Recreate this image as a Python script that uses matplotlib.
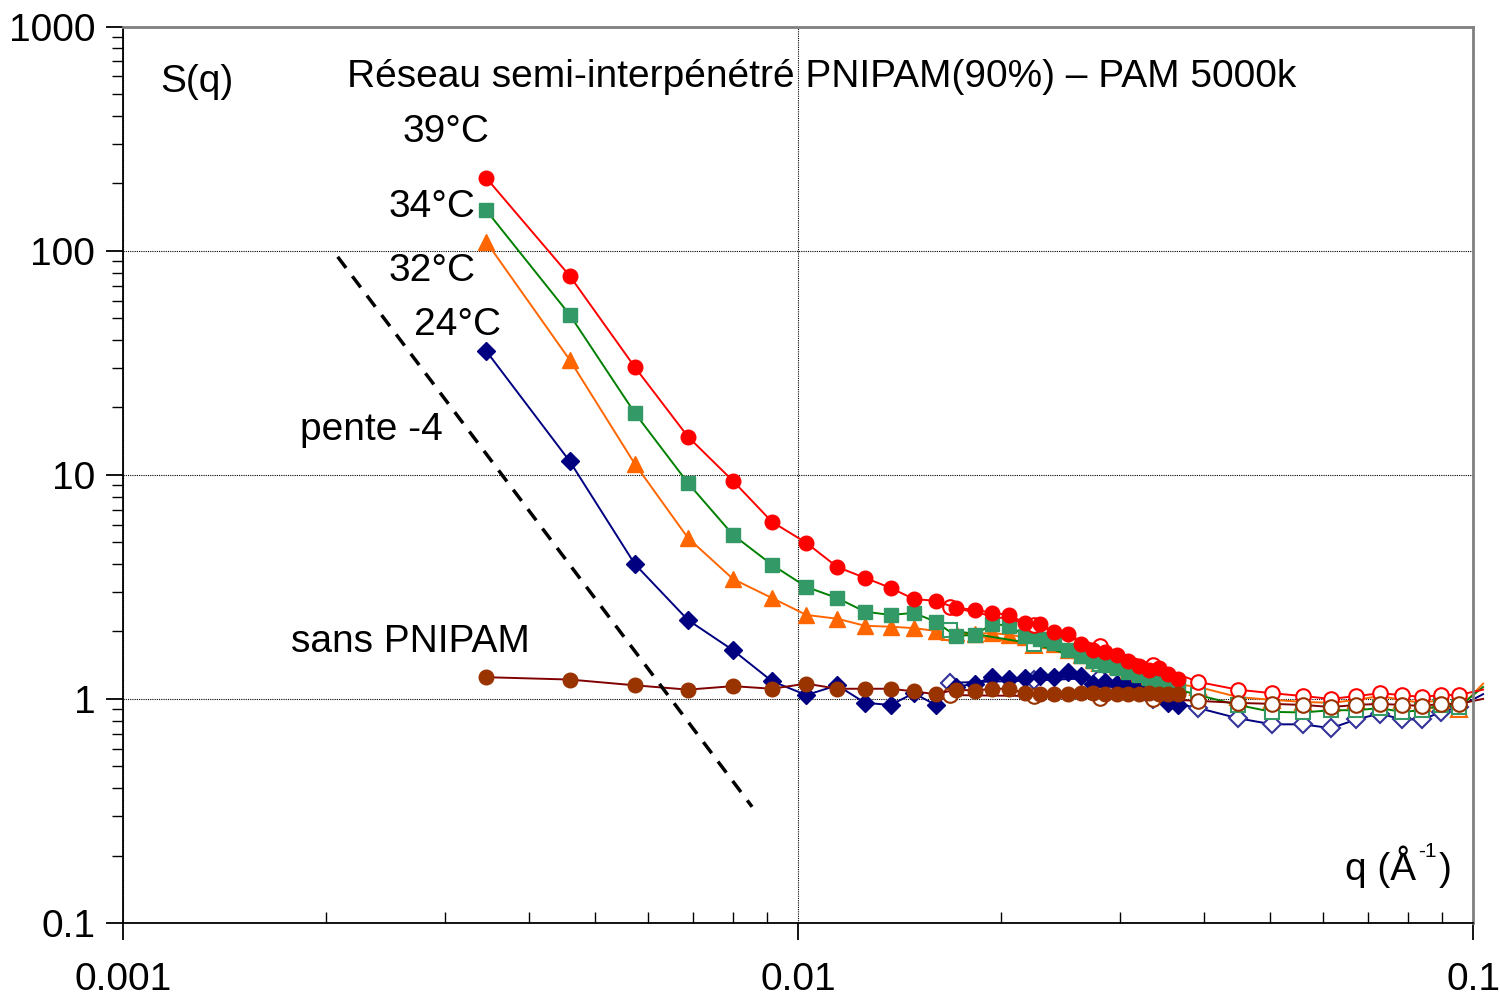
import matplotlib
matplotlib.use('Agg')
import matplotlib.pyplot as plt
from matplotlib.ticker import LogLocator, NullFormatter, FixedLocator, FixedFormatter

plt.rcParams['font.family'] = ['Liberation Sans', 'DejaVu Sans']

# first data set (filled markers)
q1 = [0.00345, 0.00459, 0.00573, 0.00687, 0.00801, 0.00915, 0.01029, 0.01143,
      0.01257, 0.01371, 0.01485, 0.01599, 0.01713, 0.01827, 0.01941, 0.02055,
      0.02169, 0.02283, 0.02397, 0.02511, 0.02625, 0.02739, 0.02853, 0.02967,
      0.03081, 0.03195, 0.03309, 0.03423, 0.03537, 0.03651]
s39 = [212, 77.3, 30.3, 14.8, 9.4, 6.17, 4.97, 3.88, 3.47, 3.13, 2.79, 2.74,
       2.55, 2.50, 2.42, 2.37, 2.18, 2.16, 1.99, 1.95, 1.76, 1.66, 1.62, 1.57,
       1.48, 1.40, 1.35, 1.37, 1.29, 1.23]
s34 = [152, 51.8, 18.9, 9.2, 5.40, 3.97, 3.16, 2.82, 2.45, 2.37, 2.42, 2.21,
       1.91, 1.93, 2.16, 2.12, 1.91, 1.85, 1.78, 1.66, 1.56, 1.48, 1.42, 1.37,
       1.32, 1.28, 1.24, 1.22, 1.19, 1.17]
s32 = [110, 32.6, 11.2, 5.23, 3.43, 2.82, 2.37, 2.28, 2.12, 2.10, 2.07, 2.01,
       1.97, 1.95, 1.97, 1.93, 1.89, 1.83, 1.76, 1.66, 1.57, 1.49, 1.45, 1.40,
       1.35, 1.31, 1.27, 1.23, 1.19, 1.15]
s24 = [35.8, 11.5, 4.0, 2.25, 1.65, 1.20, 1.04, 1.15, 0.96, 0.94, 1.06, 0.94,
       1.13, 1.17, 1.25, 1.23, 1.24, 1.27, 1.25, 1.32, 1.27, 1.17, 1.19, 1.17,
       1.18, 1.14, 1.13, 1.10, 0.96, 0.94]
s0 = [1.25, 1.22, 1.15, 1.10, 1.14, 1.11, 1.17, 1.11, 1.11, 1.11, 1.08, 1.05,
      1.10, 1.09, 1.11, 1.11, 1.06, 1.05, 1.05, 1.05, 1.06, 1.06, 1.05, 1.05,
      1.05, 1.05, 1.06, 1.05, 1.05, 1.05]

# second data set (open markers), last point lies just past the axis
q2 = [0.0168, 0.0224, 0.0280, 0.0336, 0.0392, 0.0448, 0.0504, 0.0560,
      0.0616, 0.0672, 0.0728, 0.0784, 0.0840, 0.0896, 0.0952, 0.1035]
o39 = [2.57, 2.14, 1.72, 1.42, 1.19, 1.10, 1.06, 1.03, 1.00, 1.03, 1.06, 1.04,
       1.02, 1.04, 1.04, 1.10]
o34 = [2.03, 1.76, 1.43, 1.18, 1.04, 0.94, 0.875, 0.87, 0.89, 0.89, 0.91,
       0.875, 0.89, 0.94, 0.92, 1.13]
o32 = [1.98, 1.74, 1.45, 1.20, 1.13, 1.02, 0.99, 0.97, 0.96, 0.99, 1.03, 0.99,
       0.96, 0.99, 0.90, 1.17]
o24 = [1.18, 1.21, 1.24, 1.00, 0.91, 0.82, 0.77, 0.77, 0.74, 0.81, 0.86, 0.81,
       0.81, 0.87, 0.92, 1.05]
o0 = [1.04, 1.03, 1.01, 1.00, 0.98, 0.96, 0.95, 0.94, 0.92, 0.94, 0.95, 0.94,
      0.93, 0.95, 0.95, 1.00]

# slope -4 guide
q_guide = [0.00208, 0.00855]
s_guide = [94, 0.33]

fig = plt.figure(figsize=(15, 9.98), dpi=100)
ax = fig.add_axes([0.082, 0.0752, 0.9, 0.898])

# (filled y, open y, line colour, marker, fill colour, open edge colour, size)
series = [
    (s24, o24, '#000080', 'D', '#000080', '#333399', 9),
    (s32, o32, '#FF6600', '^', '#FF6600', '#FF6600', 11),
    (s34, o34, '#008000', 's', '#339966', '#339966', 10.5),
    (s39, o39, '#FF0000', 'o', '#FF0000', '#FF0000', 10.5),
    (s0, o0, '#800000', 'o', '#993300', '#993300', 10.5),
]
n2 = len(q2) - 1
for sf, so, lc, m, fc, ec, ms in series:
    ax.plot(q2, so, '-', color=lc, lw=1.4, marker=m, ms=ms, mfc='white',
            mec=ec, mew=1.5, markevery=list(range(n2)), clip_on=False)
    ax.plot(q1, sf, '-', color=lc, lw=1.4, marker=m, ms=ms, mfc=fc, mec=fc)

ax.plot(q_guide, s_guide, '--', color='black', lw=2.5, dashes=(4, 3))

ax.set_xscale('log')
ax.set_yscale('log')
ax.set_xlim(0.001, 0.1)
ax.set_ylim(0.1, 1000)

ax.xaxis.set_major_locator(FixedLocator([0.001, 0.01, 0.1]))
ax.xaxis.set_major_formatter(FixedFormatter(['0.001', '0.01', '0.1']))
ax.yaxis.set_major_locator(FixedLocator([0.1, 1, 10, 100, 1000]))
ax.yaxis.set_major_formatter(FixedFormatter(['0.1', '1', '10', '100', '1000']))
ax.xaxis.set_minor_locator(LogLocator(base=10, subs=range(2, 10)))
ax.yaxis.set_minor_locator(LogLocator(base=10, subs=range(2, 10)))
ax.xaxis.set_minor_formatter(NullFormatter())
ax.yaxis.set_minor_formatter(NullFormatter())

fs = 28
ax.tick_params(axis='both', which='major', labelsize=fs, length=12, width=1.3,
               direction='out')
ax.tick_params(axis='y', which='minor', length=8, width=1, direction='out')
ax.tick_params(axis='x', which='minor', length=8, width=1, direction='in')
ax.tick_params(axis='x', which='major', pad=16)
ax.tick_params(axis='y', which='major', pad=8)

ax.grid(True, which='major', color='black', ls=(0, (1, 1)), lw=0.8)
ax.set_axisbelow(True)

for side in ['top', 'right']:
    ax.spines[side].set_color('#808080')
    ax.spines[side].set_linewidth(2)
for side in ['left', 'bottom']:
    ax.spines[side].set_color('black')
    ax.spines[side].set_linewidth(1.3)

# annotations placed in figure pixels (left edge, baseline, text, size)
W, H = 1500, 998
labels = [
    (160, 92, 'S(q)', fs),
    (347, 87, 'Réseau semi-interpénétré PNIPAM(90%) – PAM 5000k', fs),
    (403, 142, '39°C', fs),
    (389, 217, '34°C', fs),
    (389, 281, '32°C', fs),
    (414, 335, '24°C', fs),
    (300, 440, 'pente -4', fs),
    (291, 652, 'sans PNIPAM', fs),
    (1345, 880, 'q (Å', fs),
    (1418, 857, '-1', 15),
    (1439, 880, ')', fs),
]
for px, py, t, s in labels:
    fig.text(px / W, 1 - py / H, t, fontsize=s, ha='left', va='baseline')

fig.savefig('out.png', dpi=100)
